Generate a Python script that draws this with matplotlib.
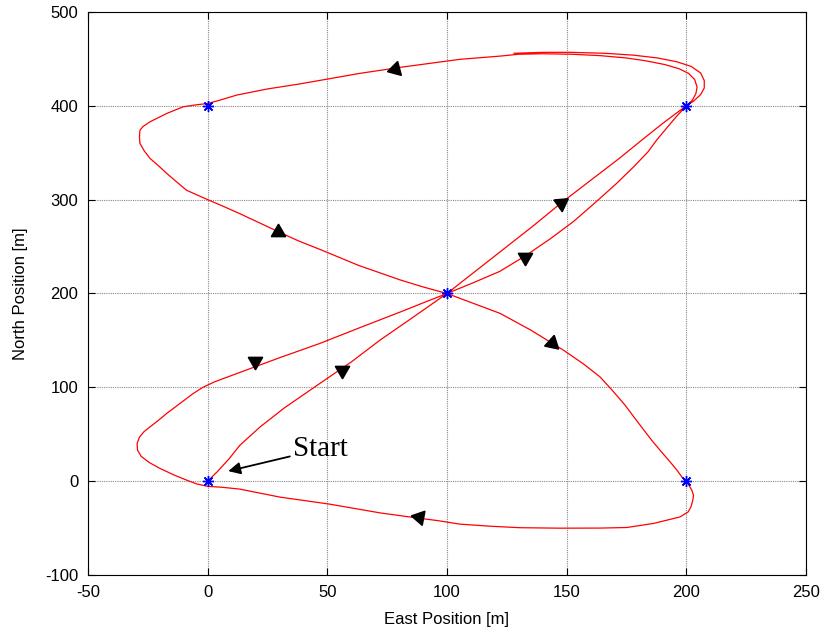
import matplotlib
matplotlib.use("Agg")
import matplotlib.pyplot as plt

plt.rcParams["axes.unicode_minus"] = False

# ---- trajectory (East, North) in metres ----
east = [0, 4, 9, 13.5, 22, 32, 46.9, 60, 72, 86, 100,
        112, 124, 136, 147.7, 160, 172, 181.4, 190, 196, 200,
        202.5, 204, 204.5, 203.5, 201, 197, 191, 183, 175, 164, 152, 140, 130,
        122.2, 105.5, 80.4, 63.6, 38.6, 25, 12.2, 5, 0,
        -5, -10.2, -17, -24.1, -27, -28.3, -28.5, -28.3, -26.5, -24.1, -20.5, -17.1, -13, -8.8, -4, 0,
        6, 13.5, 21, 29.4, 38, 46.9, 63, 80.4, 90, 100,
        111, 122.2, 135, 148.6, 157, 163.9, 169, 174.4, 180, 185.5, 189, 193.2, 196, 198.1, 200,
        200.5, 202.3, 203, 202.7, 202, 200.8, 197.4, 191.8, 186.2, 175.1, 163.9, 147.2, 130.5, 118,
        105.4, 96, 88, 72, 51, 30.2, 13.5, 6, 0,
        -4.5, -8.8, -14, -19.9, -24.5, -27.8, -29.3, -29.5, -28.5, -26.5, -23.5, -20.5, -17.1, -12, -6, -2, 3,
        12, 20, 30, 46.9, 63, 80.4, 90, 100,
        111, 122, 132.6, 143, 153, 162, 170.9, 178, 184, 187.6, 192, 196, 200,
        203, 206, 207.5, 207.5, 206, 202, 196, 188, 178, 166, 152, 140, 128]
north = [0, 10, 24, 38.4, 58, 78, 104.2, 127, 150.3, 175, 200,
         224, 248, 272, 296.5, 320.5, 344, 363.5, 381, 392.5, 400,
         406, 413, 420, 428, 434.5, 439.5, 444, 448, 451, 453.5, 455, 455.5, 455,
         453, 449.6, 441, 434.6, 423.4, 418, 411.5, 406, 402.5,
         401, 399, 392, 383, 378, 374, 367, 360, 352, 344, 336, 328, 319, 310, 304.5, 300,
         293.5, 285, 276, 266, 256, 247, 230, 214.5, 207, 200,
         189.5, 178.8, 161, 139.7, 125, 111.2, 97, 81, 62, 43.7, 33, 20.6, 12, 4.6, 0,
         -2, -9.6, -15, -20.3, -27, -32.7, -38.1, -41.6, -45.1, -49.4, -50, -50.1, -49.6, -48,
         -45.8, -42, -39.4, -33.8, -24.5, -17, -8.5, -6.5, -5.5,
         -3, 1.1, 6.5, 13.5, 20, 26.5, 33, 40, 47, 53, 59, 65, 72.2, 82, 93.5, 100, 106,
         114.5, 122, 131.5, 146.8, 163, 180.2, 190, 200,
         211.5, 223.5, 239.9, 258, 277, 297, 317.4, 335, 351, 363.5, 377, 389, 400,
         405, 412, 419, 427, 435, 442, 447, 451, 454, 456, 457, 457, 456]

# waypoints
wp_east = [0, 100, 200, 0, 200]
wp_north = [0, 200, 400, 400, 0]

# direction arrowheads: position and rotation (deg, 0 = pointing up)
arr_east = [78.3, 29.4, 143.9, 88.2, 19.6, 56.0, 147.7, 132.6]
arr_north = [438.9, 265.2, 146.8, -38.3, 128.0, 118.7, 296.6, 239.4]
arr_rot = [105, 0, -132, 79, 180, 180, 185, 180]

xticks = [-50, 0, 50, 100, 150, 200, 250]
yticks = [-100, 0, 100, 200, 300, 400, 500]

fig = plt.figure(figsize=(8.21, 6.35), dpi=100)
ax = fig.add_axes([0.1072, 0.0945, 0.8745, 0.8866])

ax.plot(east, north, color="red", lw=0.9, zorder=3)
ax.plot(wp_east, wp_north, linestyle="none", marker=(8, 2, 0), markersize=8,
        markeredgewidth=1.0, color="blue", zorder=4)
for x, y, r in zip(arr_east, arr_north, arr_rot):
    ax.plot([x], [y], linestyle="none", marker=(3, 0, r), markersize=12,
            color="black", zorder=5)

ax.annotate("Start", xy=(8.6, 10.7), xytext=(35.5, 34),
            fontsize=21, family="Liberation Serif", va="center", ha="left",
            arrowprops=dict(arrowstyle="-|>", color="black", lw=1.3,
                            mutation_scale=18, shrinkA=0, shrinkB=0),
            zorder=6)

ax.set_xlim(-50, 250)
ax.set_ylim(-100, 500)
ax.set_xticks(xticks)
ax.set_yticks(yticks)
ax.grid(True, color="#888888", linestyle=(0, (1, 1)), linewidth=0.8)
ax.set_axisbelow(True)
ax.tick_params(direction="in", top=True, right=True, labelsize=12, length=5, pad=7)
for lab in ax.get_xticklabels() + ax.get_yticklabels():
    lab.set_family("Liberation Sans")
ax.set_xlabel("East Position [m]", fontsize=12, family="Liberation Sans", labelpad=9)
ax.set_ylabel("North Position [m]", fontsize=12, family="Liberation Sans", labelpad=12)
for s in ax.spines.values():
    s.set_linewidth(0.8)

fig.savefig("out.png", dpi=100)
